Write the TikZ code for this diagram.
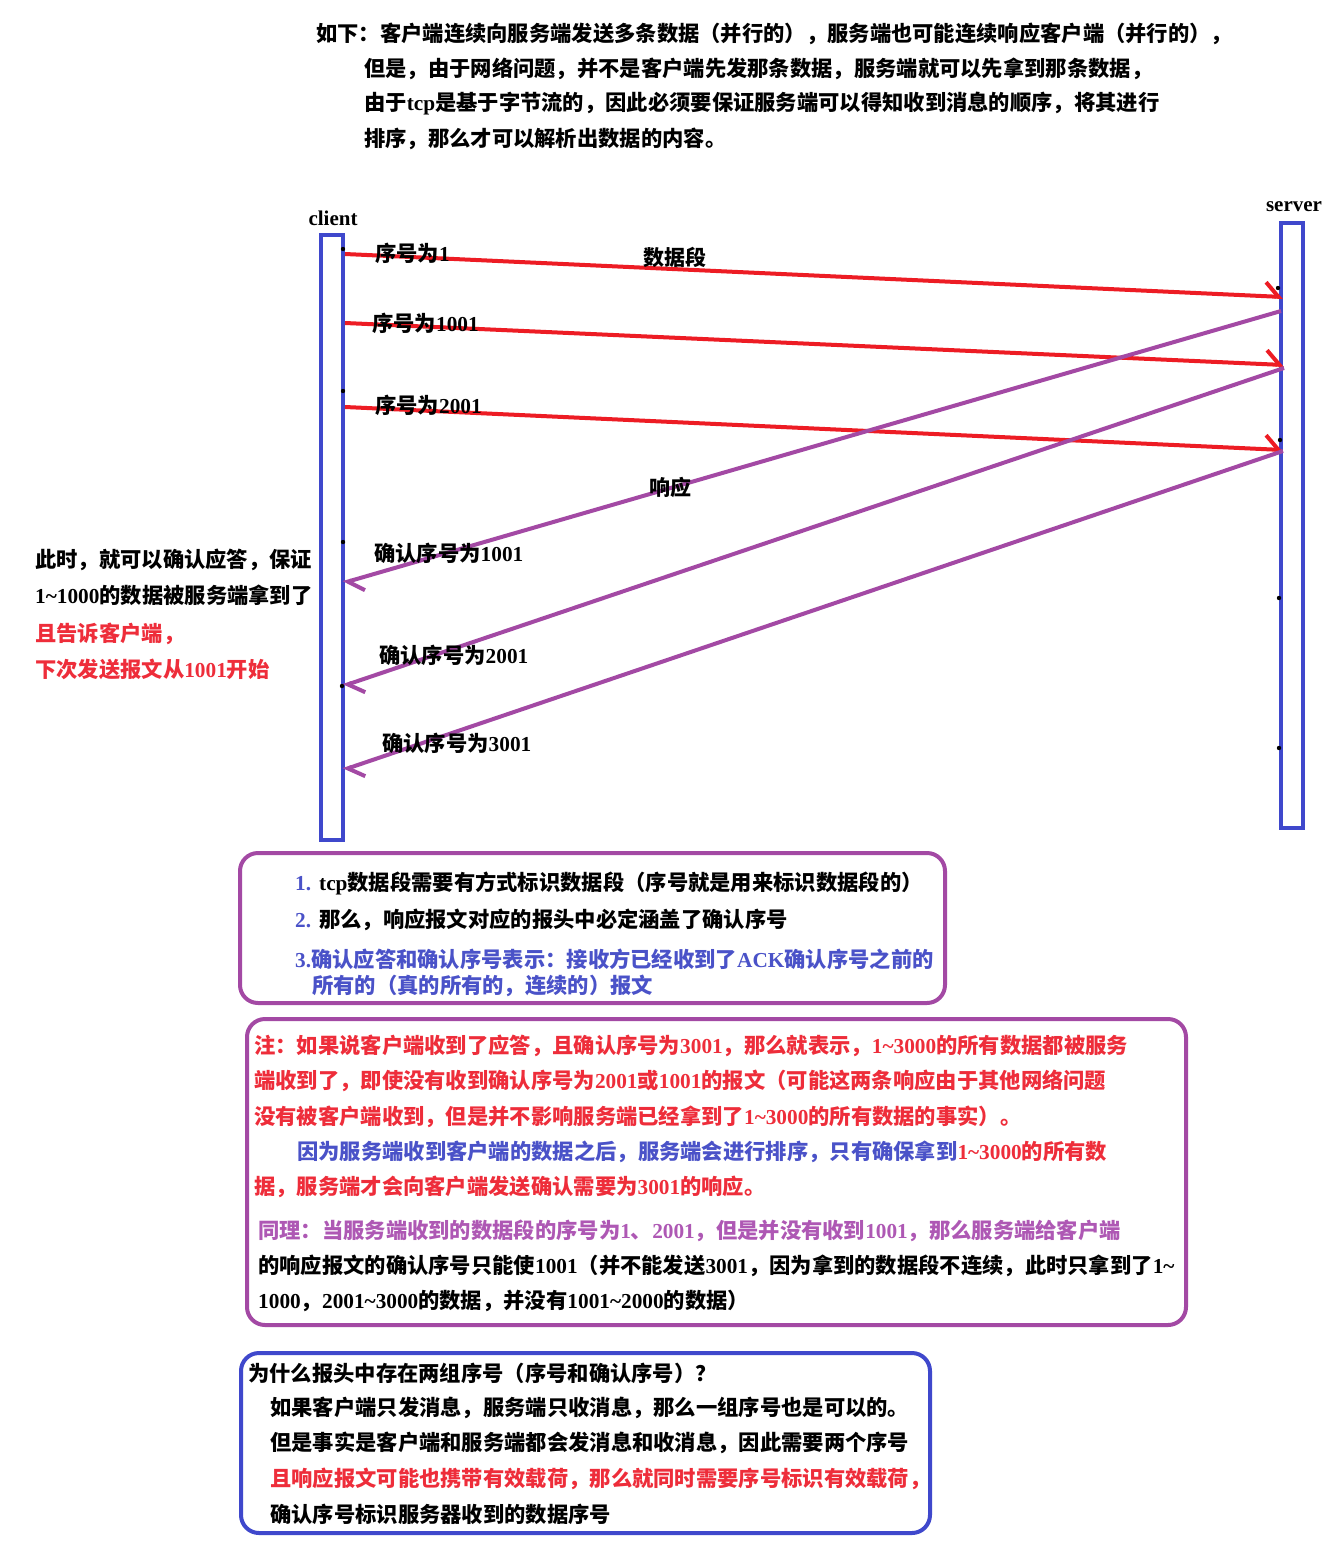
\documentclass[tikz,border=0pt]{standalone}
\usepackage{fontspec}
\setmainfont{Liberation Serif}
\newfontfamily\cjk{Noto Sans CJK SC}
\usetikzlibrary{arrows.meta}
\XeTeXinterchartokenstate=1
\newXeTeXintercharclass\cjkcls
\newcount\cjkcnt
\def\setcjkrange#1#2{\cjkcnt=#1 \loop\ifnum\cjkcnt<#2 \XeTeXcharclass\cjkcnt=\cjkcls \advance\cjkcnt by 1 \repeat}
\setcjkrange{"3000}{"3040}
\setcjkrange{"4E00}{"A000}
\setcjkrange{"FF00}{"FFF0}
\XeTeXinterchartoks 0 \cjkcls = {\cjk}
\XeTeXinterchartoks 4095 \cjkcls = {\cjk}
\XeTeXinterchartoks \cjkcls 0 = {\rmfamily}
\XeTeXinterchartoks 4095 0 = {\rmfamily}
\newcommand\tld{\textasciitilde}
\definecolor{pblue}{HTML}{3F48CC}
\definecolor{ppurple}{HTML}{A349A4}
\definecolor{pred}{HTML}{ED1C24}
\definecolor{tred}{HTML}{EE2D3A}
\definecolor{tblue}{HTML}{4A52C8}
\definecolor{tpurple}{HTML}{AE58B4}
\tikzset{
  txt/.style={anchor=west, inner sep=0pt, font=\fontsize{21.3}{26}\selectfont\bfseries},
  txtb/.style={anchor=west, inner sep=0pt, font=\fontsize{21.3}{26}\selectfont\bfseries},
  lbl/.style={inner sep=0pt, font=\fontsize{21}{26}\selectfont\bfseries},
  lifeline/.style={draw=pblue, line width=4.5pt, minimum width=22pt, minimum height=605pt, inner sep=0pt, outer sep=0pt},
  redmsg/.style={draw=pred, line width=4pt, -{Straight Barb[harpoon,length=13pt,width=28pt]}},
  purmsg/.style={draw=ppurple, line width=4pt, -{Straight Barb[harpoon,length=14pt,width=26pt]}},
  pbox/.style={draw=ppurple, line width=4pt, rounded corners=18pt, inner sep=0pt, outer sep=0pt},
  bbox/.style={draw=pblue, line width=4pt, rounded corners=18pt, inner sep=0pt, outer sep=0pt},
}
\begin{document}
\begin{tikzpicture}[x=1pt, y=-1pt]
\fill[white] (0,0) rectangle (1337,1552);
\useasboundingbox (0,0) rectangle (1337,1552);

% top text
\node[txt] (t1) at (316,34) {如下：客户端连续向服务端发送多条数据（并行的），服务端也可能连续响应客户端（并行的），};
\node[txt] (t2) at (364,69) {但是，由于网络问题，并不是客户端先发那条数据，服务端就可以先拿到那条数据，};
\node[txt] (t3) at (364,104) {由于tcp是基于字节流的，因此必须要保证服务端可以得知收到消息的顺序，将其进行};
\node[txt] (t4) at (364,139) {排序，那么才可以解析出数据的内容。};

% lifelines
\node[lifeline] (client) at (332,537.5) {};
\node[lifeline] (server) at (1292,525.5) {};
\node[lbl] (clientlbl) at (333,218) {client};
\node[lbl] (serverlbl) at (1294,207) {server};

% message end points
\coordinate (d1s) at (345,254);  \coordinate (d1e) at (1283,297);
\coordinate (d2s) at (345,323);  \coordinate (d2e) at (1284,365);
\coordinate (d3s) at (345,407);  \coordinate (d3e) at (1283,450);
\coordinate (a1s) at (1281,311); \coordinate (a1e) at (343,583);
\coordinate (a2s) at (1284,368); \coordinate (a2e) at (343,686);
\coordinate (a3s) at (1283,451); \coordinate (a3e) at (343,770);

\draw[redmsg] (d1s) -- (d1e);
\draw[redmsg] (d2s) -- (d2e);
\draw[redmsg] (d3s) -- (d3e);
\draw[purmsg] (a1s) -- (a1e);
\draw[purmsg] (a2s) -- (a2e);
\draw[purmsg] (a3s) -- (a3e);

% small black marks
\foreach \p in {(343,249),(343,391),(343,542),(342,686),(1278,288),(1279,598),(1279,748),(1280,440)}
  \fill[black] \p circle (2.2);

% message labels
\node[txt] (l1) at (375,253) {序号为1};
\node[lbl] (lseg) at (675,257) {数据段};
\node[txt] (l2) at (372,323) {序号为1001};
\node[txt] (l3) at (375,405) {序号为2001};
\node[lbl] (lresp) at (670,487) {响应};
\node[txt] (l4) at (374,553) {确认序号为1001};
\node[txt] (l5) at (379,655) {确认序号为2001};
\node[txt] (l6) at (382,743) {确认序号为3001};

% left note
\node[txt] (n1) at (35,560) {此时，就可以确认应答，保证};
\node[txt] (n2) at (35,595) {1\tld1000的数据被服务端拿到了};
\node[txt, text=tred] (n3) at (35,634) {且告诉客户端，};
\node[txt, text=tred] (n4) at (35,669) {下次发送报文从1001开始};

% box 1
\node[pbox, minimum width=705pt, minimum height=150pt] (box1) at (592.5,928) {};
\node[txt] (b11) at (295,883) {{\color{tblue}1.}\hspace{8pt}tcp数据段需要有方式标识数据段（序号就是用来标识数据段的）};
\node[txt] (b12) at (295,920) {{\color{tblue}2.}\hspace{8pt}那么，响应报文对应的报头中必定涵盖了确认序号};
\node[txt, text=tblue] (b13) at (295,959) {3.确认应答和确认序号表示：接收方已经收到了ACK确认序号之前的};
\node[txt, text=tblue] (b14) at (312,986) {所有的（真的所有的，连续的）报文};

% box 2
\node[pbox, minimum width=939pt, minimum height=306pt] (box2) at (716.5,1172) {};
\node[txtb, text=tred] (b21) at (254,1046) {注：如果说客户端收到了应答，且确认序号为3001，那么就表示，1\tld3000的所有数据都被服务};
\node[txtb, text=tred] (b22) at (254,1081) {端收到了，即使没有收到确认序号为2001或1001的报文（可能这两条响应由于其他网络问题};
\node[txtb, text=tred] (b23) at (254,1117) {没有被客户端收到，但是并不影响服务端已经拿到了1\tld3000的所有数据的事实）。};
\node[txtb, text=tblue] (b24) at (297,1152) {因为服务端收到客户端的数据之后，服务端会进行排序，只有确保拿到{\color{tred}1\tld3000的所有数}};
\node[txtb, text=tred] (b25) at (254,1187) {据，服务端才会向客户端发送确认需要为3001的响应。};
\node[txtb, text=tpurple] (b26) at (258,1231) {同理：当服务端收到的数据段的序号为1、2001，但是并没有收到1001，那么服务端给客户端};
\node[txtb] (b27) at (258,1266) {的响应报文的确认序号只能使1001（并不能发送3001，因为拿到的数据段不连续，此时只拿到了1\tld};
\node[txtb] (b28) at (258,1301) {1000，2001\tld3000的数据，并没有1001\tld2000的数据）};

% box 3
\node[bbox, minimum width=689pt, minimum height=180pt] (box3) at (585.5,1443) {};
\node[txt] (b31) at (248,1373) {为什么报头中存在两组序号（序号和确认序号）？};
\node[txt] (b32) at (270,1408) {如果客户端只发消息，服务端只收消息，那么一组序号也是可以的。};
\node[txt] (b33) at (270,1443) {但是事实是客户端和服务端都会发消息和收消息，因此需要两个序号};
\node[txt, text=tred] (b34) at (270,1479) {且响应报文可能也携带有效载荷，那么就同时需要序号标识有效载荷，};
\node[txt] (b35) at (270,1514) {确认序号标识服务器收到的数据序号};
\end{tikzpicture}
\end{document}
